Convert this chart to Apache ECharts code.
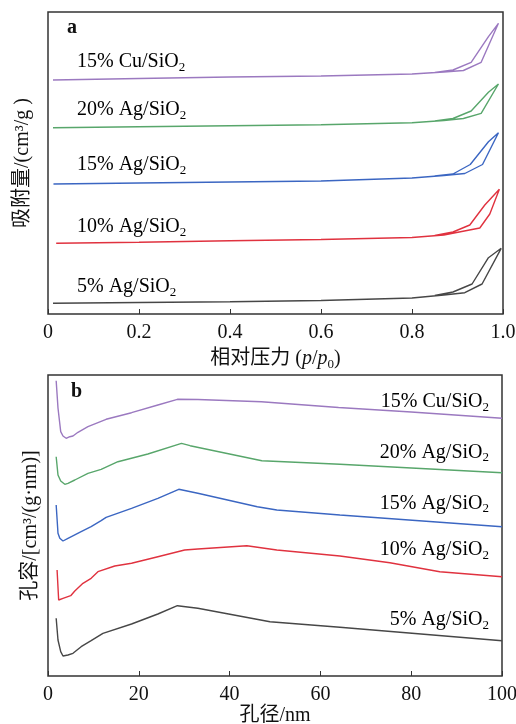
<!DOCTYPE html>
<html><head><meta charset="utf-8">
<script src="https://cdn.jsdelivr.net/npm/echarts@6/dist/echarts.min.js"></script>
<style>html,body{margin:0;padding:0;background:#fff}#c{width:516px;height:724px}</style>
</head><body><div id="c"></div>
<script>
// ---- sample names (top to bottom) and colours ----
const sampleNames = ['15% Cu/SiO2', '20% Ag/SiO2', '15% Ag/SiO2', '10% Ag/SiO2', '5% Ag/SiO2'];
const sampleColors = ['#9b79c0', '#58a66b', '#3b66c2', '#e0323f', '#474747'];

// ---- panel a: N2 isotherms (relative pressure p/p0, adsorbed amount, offset arbitrary units) ----
const xTicksA = [0, 0.2, 0.4, 0.6, 0.8, 1.0];
const isoCu15 = [[0.011,234],[0.2,235.5],[0.4,237],[0.6,238],[0.8,240],[0.87,242],[0.913,243.5],[0.952,251.7],[0.99,290.7],[0.968,277.3],[0.93,251.7],[0.89,244],[0.85,241.5]];
const isoAg20 = [[0.011,186.3],[0.2,187.3],[0.4,188.3],[0.6,189.3],[0.8,191.3],[0.87,193.5],[0.913,195.5],[0.952,200.7],[0.99,230],[0.968,221.7],[0.93,203],[0.89,195.5],[0.85,193]];
const isoAg15 = [[0.012,130],[0.2,131],[0.4,132],[0.6,133],[0.8,136],[0.87,138.5],[0.916,140.5],[0.955,149.5],[0.99,181.3],[0.968,172.3],[0.928,149.5],[0.89,140],[0.85,138]];
const isoAg10 = [[0.018,70.7],[0.2,71.7],[0.4,73.3],[0.6,74.5],[0.8,76.5],[0.87,79],[0.915,83],[0.949,86],[0.971,100],[0.992,124.7],[0.96,109],[0.927,89],[0.89,82],[0.85,78.5]];
const isoAg5  = [[0.011,10.7],[0.2,11.5],[0.4,12.3],[0.6,13.5],[0.8,16],[0.87,19],[0.916,21.3],[0.954,30],[0.996,65.7],[0.968,56.3],[0.932,30],[0.89,22],[0.85,18.5]];

// ---- panel b: pore size distributions (pore diameter nm, pore volume, offset arbitrary units) ----
const xTicksB = [0, 20, 40, 60, 80, 100];
const psdCu15 = [[1.8,295.3],[2.2,268],[2.8,244.3],[3.3,240],[4.0,237.7],[4.8,239.3],[5.5,240],[6.6,243.7],[8.8,249.3],[12.8,256.7],[18.4,263.3],[24.2,271],[28.5,276.7],[33,276.5],[47,274.3],[64,268.5],[80,264],[100,257.7]];
const psdAg20 = [[1.8,219.3],[2.2,201],[2.8,195],[3.7,191.7],[4.4,192.7],[5.9,196],[8.8,202.7],[11.7,206.7],[15.4,214.3],[22,222],[29.4,232.7],[31.3,230.3],[47.1,215.3],[64.3,211.7],[100,203.3]];
const psdAg15 = [[1.8,171],[2.2,142.7],[2.6,137.7],[3.3,135],[4.4,137.7],[7.3,144.3],[9.5,149.3],[11.7,155.3],[12.8,158.7],[18.4,167.7],[24.2,177.7],[28.8,186.7],[33,182.7],[46.1,169.3],[50.4,166],[64.3,161],[100,149.3]];
const psdAg10 = [[2.0,106],[2.35,76],[3.3,77.7],[5.0,80.3],[5.9,85],[7.7,92.7],[9.5,97.7],[11.0,104.3],[14.7,110],[18.4,112.7],[24.2,119.3],[30.1,126],[33,127],[43.8,130.3],[50.4,126],[64.3,120],[75.3,113.3],[86.3,104.3],[100,99.3]];
const psdAg5  = [[1.8,57.7],[2.2,36],[2.8,24.3],[3.3,20],[4.4,21],[5.5,22.7],[7.3,29.3],[9.5,35.3],[12.1,42.7],[18.4,52],[24.2,62],[28.5,70.3],[33,67.7],[48.9,54.3],[64.3,48.7],[100,35.3]];

const isoData = [isoCu15, isoAg20, isoAg15, isoAg10, isoAg5];
const psdData = [psdCu15, psdAg20, psdAg15, psdAg10, psdAg5];

const FONT = "'Liberation Serif','Times New Roman','Noto Sans CJK SC',serif";
const FS = 20;
const richSub = {
  t: {fontFamily: FONT, fontSize: FS, color: '#111', lineHeight: 24},
  i: {fontFamily: FONT, fontSize: FS, color: '#111', fontStyle: 'italic', lineHeight: 24},
  s: {fontFamily: FONT, fontSize: 13, color: '#111', verticalAlign: 'bottom', lineHeight: 15}
};
function richName(n) { return '{t|' + n.slice(0, -1) + '}{s|' + n.slice(-1) + '}'; }

const chart = echarts.init(document.getElementById('c'), null, {renderer: 'canvas'});

const axisTickStyle = {show: true, inside: true, length: 5, lineStyle: {color: '#333', width: 1}};
const labelStyle = {fontFamily: FONT, fontSize: FS, color: '#111', margin: 9};

const series = [];
isoData.forEach((d, k) => series.push({
  type: 'line', name: sampleNames[k] + ' a', xAxisIndex: 0, yAxisIndex: 0, data: d,
  showSymbol: false, symbol: 'none', lineStyle: {color: sampleColors[k], width: 1.4}, z: 3
}));
psdData.forEach((d, k) => series.push({
  type: 'line', name: sampleNames[k] + ' b', xAxisIndex: 1, yAxisIndex: 1, data: d,
  showSymbol: false, symbol: 'none', lineStyle: {color: sampleColors[k], width: 1.4}, z: 3
}));

const labelYa = [61.7, 110, 165, 226.7, 286.7];
const labelYb = [401.7, 452.3, 503.3, 550, 620];
const graphics = [];
sampleNames.forEach((n, k) => {
  graphics.push({type: 'text', x: 77, y: labelYa[k], style: {text: richName(n), rich: richSub, align: 'left', verticalAlign: 'middle'}});
  graphics.push({type: 'text', x: 489, y: labelYb[k], style: {text: richName(n), rich: richSub, align: 'right', verticalAlign: 'middle'}});
});
graphics.push({type: 'text', x: 72, y: 28, style: {text: 'a', font: 'bold 20px ' + FONT, fill: '#111', align: 'center', verticalAlign: 'middle'}});
graphics.push({type: 'text', x: 76.5, y: 392, style: {text: 'b', font: 'bold 20px ' + FONT, fill: '#111', align: 'center', verticalAlign: 'middle'}});

chart.setOption({
  animation: false,
  backgroundColor: '#fff',
  grid: [
    {left: 48, top: 12, width: 455, height: 302, show: true, borderColor: '#333', borderWidth: 1.5, backgroundColor: 'transparent', outerBoundsMode: 'none', containLabel: false},
    {left: 48, top: 375, width: 454, height: 301, show: true, borderColor: '#333', borderWidth: 1.5, backgroundColor: 'transparent', outerBoundsMode: 'none', containLabel: false}
  ],
  xAxis: [
    {type: 'value', gridIndex: 0, min: xTicksA[0], max: xTicksA[xTicksA.length - 1], interval: 0.2,
     axisLine: {show: false}, axisTick: axisTickStyle, splitLine: {show: false},
     axisLabel: Object.assign({formatter: v => v === 0 ? '0' : v.toFixed(1)}, labelStyle),
     name: '{t|相对压力 (}{i|p}{t|/}{i|p}{s|0}{t|)}', nameLocation: 'middle', nameGap: 33,
     nameTextStyle: {rich: richSub}},
    {type: 'value', gridIndex: 1, min: xTicksB[0], max: xTicksB[xTicksB.length - 1], interval: 20,
     axisLine: {show: false}, axisTick: axisTickStyle, splitLine: {show: false},
     axisLabel: labelStyle,
     name: '孔径/nm', nameLocation: 'middle', nameGap: 29,
     nameTextStyle: {fontFamily: FONT, fontSize: FS, color: '#111'}}
  ],
  yAxis: [
    {type: 'value', gridIndex: 0, min: 0, max: 302, axisLine: {show: false}, axisTick: {show: false},
     axisLabel: {show: false}, splitLine: {show: false},
     name: '吸附量/(cm³/g )', nameLocation: 'middle', nameGap: 15,
     nameTextStyle: {fontFamily: FONT, fontSize: FS, color: '#111'}},
    {type: 'value', gridIndex: 1, min: 0, max: 301, axisLine: {show: false}, axisTick: {show: false},
     axisLabel: {show: false}, splitLine: {show: false},
     name: '孔容/[cm³/(g·nm)]', nameLocation: 'middle', nameGap: 7,
     nameTextStyle: {fontFamily: FONT, fontSize: FS, color: '#111'}}
  ],
  series: series,
  graphic: graphics
});
</script>
</body></html>
